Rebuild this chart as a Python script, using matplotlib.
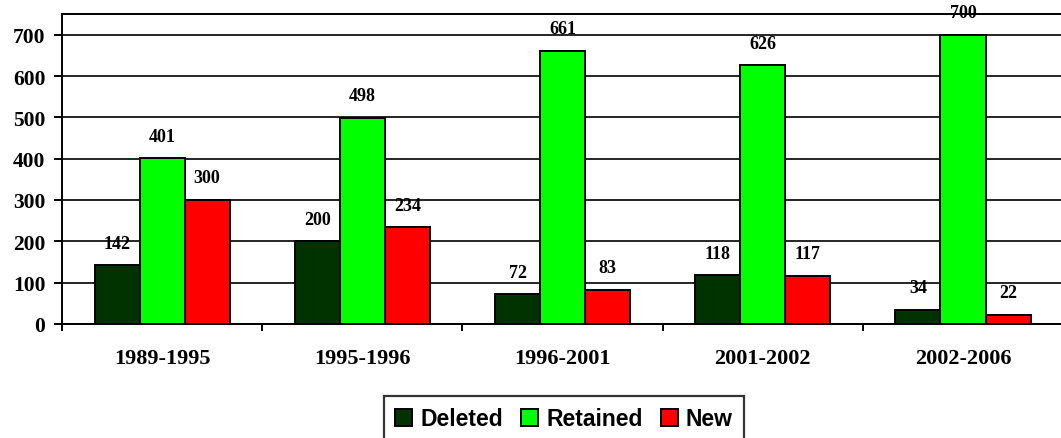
import matplotlib
matplotlib.use("Agg")
import matplotlib.pyplot as plt
import numpy as np
from matplotlib.patches import Patch

categories = ["1989-1995", "1995-1996", "1996-2001", "2001-2002", "2002-2006"]
deleted = [142, 200, 72, 118, 34]
retained = [401, 498, 661, 626, 700]
new = [300, 234, 83, 117, 22]
series_names = ["Deleted", "Retained", "New"]
colors = ["#003300", "#00FF00", "#FF0000"]

fig = plt.figure(figsize=(10.61, 4.39), dpi=100)
ax = fig.add_axes([62/1061, (439-325)/439, 1.0 - 62/1061 + 0.002, (325-15)/439])

x = np.arange(len(categories))
w = 0.225
serif = ["Liberation Serif", "DejaVu Serif"]
for i, (vals, c) in enumerate(zip([deleted, retained, new], colors)):
    pos = x + (i - 1) * w
    ax.bar(pos, vals, width=w, color=c, edgecolor="black", linewidth=1.4, zorder=3)
    for p, v in zip(pos, vals):
        ax.annotate(str(v), (p, v), xytext=(0, 16), textcoords="offset points",
                    ha="center", va="center", fontsize=13, fontweight="bold",
                    family=serif, zorder=4)

ax.set_xlim(-0.5, len(categories) - 0.5)
ax.set_ylim(0, 750)
ax.set_yticks(range(0, 701, 100))
ax.set_yticklabels([str(v) for v in range(0, 701, 100)], fontsize=15.5,
                   fontweight="bold", family=serif)
ax.yaxis.grid(True, color="black", linewidth=1.2, zorder=0)
ax.set_axisbelow(True)
ax.tick_params(axis="y", direction="out", length=6, width=1.4, pad=6)

ax.set_xticks(x)
ax.set_xticklabels(categories, fontsize=16, fontweight="bold", family=serif)
ax.set_xticks(np.arange(-0.5, len(categories), 1.0), minor=True)
ax.tick_params(axis="x", which="major", length=0, pad=17)
ax.tick_params(axis="x", which="minor", direction="out", length=5, width=1.4)

for s in ["left", "bottom", "top"]:
    ax.spines[s].set_linewidth(1.4)
    ax.spines[s].set_color("black")
ax.spines["right"].set_visible(False)

handles = [Patch(facecolor=c, edgecolor="black", linewidth=1.4) for c in colors]
leg = fig.legend(handles, series_names, loc="upper center",
                 bbox_to_anchor=(564/1061, (439-397)/439), ncol=3,
                 prop={"family": ["Liberation Sans", "DejaVu Sans"], "weight": "bold", "size": 16.5},
                 frameon=True, fancybox=False, edgecolor="black",
                 handlelength=0.74, handleheight=0.74, handletextpad=0.35,
                 columnspacing=0.8, borderpad=0.5, borderaxespad=0)
leg.get_frame().set_linewidth(1.6)

fig.savefig("out.png", dpi=100)
